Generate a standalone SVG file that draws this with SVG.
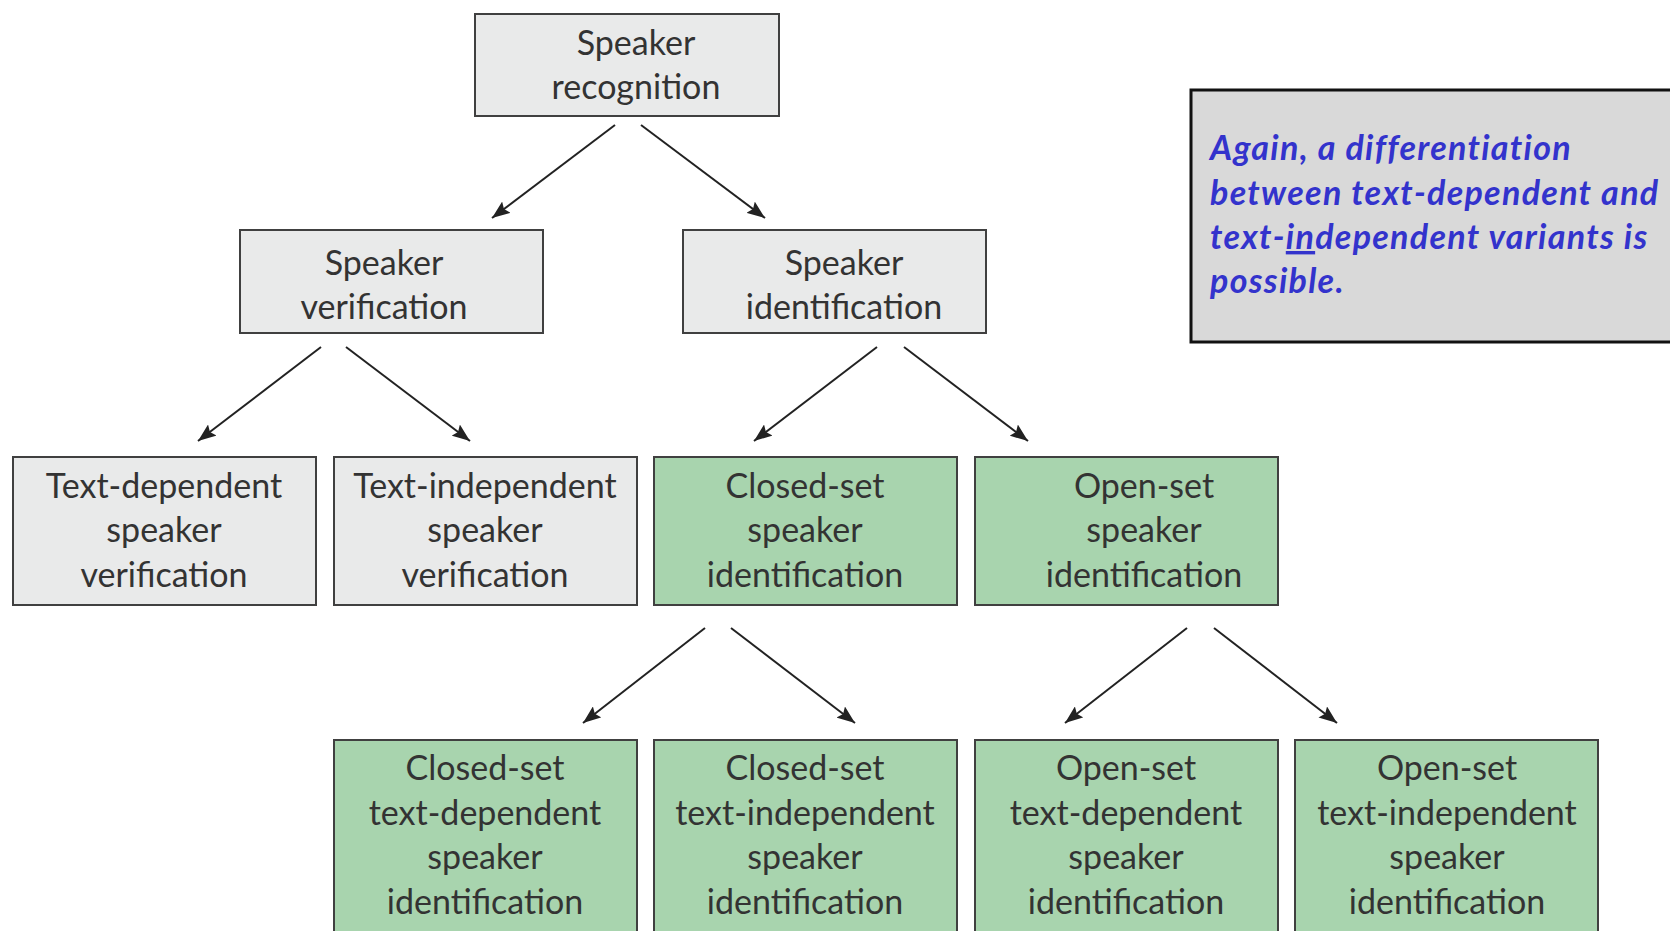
<svg xmlns="http://www.w3.org/2000/svg" width="1670" height="931" viewBox="0 0 1670 931">
  <defs>
    <marker id="arrow" viewBox="0 0 18 14" refX="18" refY="7" markerWidth="18" markerHeight="14" markerUnits="userSpaceOnUse" orient="auto">
      <path d="M0,0 L18,7 L0,14 L3,7 z" fill="#222"/>
    </marker>
    <style>
      .grey rect { fill: #e9eaea; stroke: #404040; stroke-width: 2; }
      .green rect { fill: #a8d4ae; stroke: #404040; stroke-width: 2; }
      .label { font-family: Lato, "Open Sans", sans-serif; font-size: 34px; fill: #333; text-anchor: middle; }
      .edge { stroke: #222; stroke-width: 2; fill: none; marker-end: url(#arrow); }
      .note rect { fill: #d9d9d9; stroke: #111; stroke-width: 3; }
      .note text { font-family: Lato, "Open Sans", sans-serif; font-size: 34px; letter-spacing: 1.3px; font-weight: bold; font-style: italic; fill: #3333cc; }
    </style>
  </defs>
  <rect width="1670" height="931" fill="#fff"/>

  <!-- level 1 -->
  <g id="speaker-recognition" class="grey">
    <rect x="475" y="14" width="304" height="102"/>
    <text class="label"><tspan x="636" y="55">Speaker</tspan><tspan x="636" y="99">recognition</tspan></text>
  </g>

  <!-- level 2 -->
  <g id="speaker-verification" class="grey">
    <rect x="240" y="230" width="303" height="103"/>
    <text class="label"><tspan x="384" y="275">Speaker</tspan><tspan x="384" y="319">verification</tspan></text>
  </g>
  <g id="speaker-identification" class="grey">
    <rect x="683" y="230" width="303" height="103"/>
    <text class="label"><tspan x="844" y="275">Speaker</tspan><tspan x="844" y="319">identification</tspan></text>
  </g>

  <!-- level 3 -->
  <g id="text-dependent-verification" class="grey">
    <rect x="13" y="457" width="303" height="148"/>
    <text class="label"><tspan x="164" y="498">Text-dependent</tspan><tspan x="164" y="542">speaker</tspan><tspan x="164" y="587">verification</tspan></text>
  </g>
  <g id="text-independent-verification" class="grey">
    <rect x="334" y="457" width="303" height="148"/>
    <text class="label"><tspan x="485" y="498">Text-independent</tspan><tspan x="485" y="542">speaker</tspan><tspan x="485" y="587">verification</tspan></text>
  </g>
  <g id="closed-set-identification" class="green">
    <rect x="654" y="457" width="303" height="148"/>
    <text class="label"><tspan x="805" y="498">Closed-set</tspan><tspan x="805" y="542">speaker</tspan><tspan x="805" y="587">identification</tspan></text>
  </g>
  <g id="open-set-identification" class="green">
    <rect x="975" y="457" width="303" height="148"/>
    <text class="label"><tspan x="1144" y="498">Open-set</tspan><tspan x="1144" y="542">speaker</tspan><tspan x="1144" y="587">identification</tspan></text>
  </g>

  <!-- level 4 -->
  <g id="closed-set-text-dependent" class="green">
    <rect x="334" y="740" width="303" height="200"/>
    <text class="label"><tspan x="485" y="780">Closed-set</tspan><tspan x="485" y="825">text-dependent</tspan><tspan x="485" y="869">speaker</tspan><tspan x="485" y="914">identification</tspan></text>
  </g>
  <g id="closed-set-text-independent" class="green">
    <rect x="654" y="740" width="303" height="200"/>
    <text class="label"><tspan x="805" y="780">Closed-set</tspan><tspan x="805" y="825">text-independent</tspan><tspan x="805" y="869">speaker</tspan><tspan x="805" y="914">identification</tspan></text>
  </g>
  <g id="open-set-text-dependent" class="green">
    <rect x="975" y="740" width="303" height="200"/>
    <text class="label"><tspan x="1126" y="780">Open-set</tspan><tspan x="1126" y="825">text-dependent</tspan><tspan x="1126" y="869">speaker</tspan><tspan x="1126" y="914">identification</tspan></text>
  </g>
  <g id="open-set-text-independent" class="green">
    <rect x="1295" y="740" width="303" height="200"/>
    <text class="label"><tspan x="1447" y="780">Open-set</tspan><tspan x="1447" y="825">text-independent</tspan><tspan x="1447" y="869">speaker</tspan><tspan x="1447" y="914">identification</tspan></text>
  </g>

  <!-- annotation -->
  <g id="note" class="note">
    <rect x="1191" y="90" width="520" height="252"/>
    <text><tspan x="1210" y="160">Again, a differentiation</tspan><tspan x="1210" y="205">between text-dependent and</tspan><tspan x="1210" y="249">text-<tspan text-decoration="underline">in</tspan>dependent variants is</tspan><tspan x="1210" y="293">possible.</tspan></text>
  </g>

  <g id="connectors">
    <line class="edge" x1="615" y1="125" x2="492" y2="218"/>
    <line class="edge" x1="641" y1="125" x2="765" y2="218"/>
    <line class="edge" x1="321" y1="347" x2="198" y2="441"/>
    <line class="edge" x1="346" y1="347" x2="470" y2="441"/>
    <line class="edge" x1="877" y1="347" x2="754" y2="441"/>
    <line class="edge" x1="904" y1="347" x2="1028" y2="441"/>
    <line class="edge" x1="705" y1="628" x2="583" y2="723"/>
    <line class="edge" x1="731" y1="628" x2="855" y2="723"/>
    <line class="edge" x1="1187" y1="628" x2="1065" y2="723"/>
    <line class="edge" x1="1214" y1="628" x2="1337" y2="723"/>
  </g>
</svg>
